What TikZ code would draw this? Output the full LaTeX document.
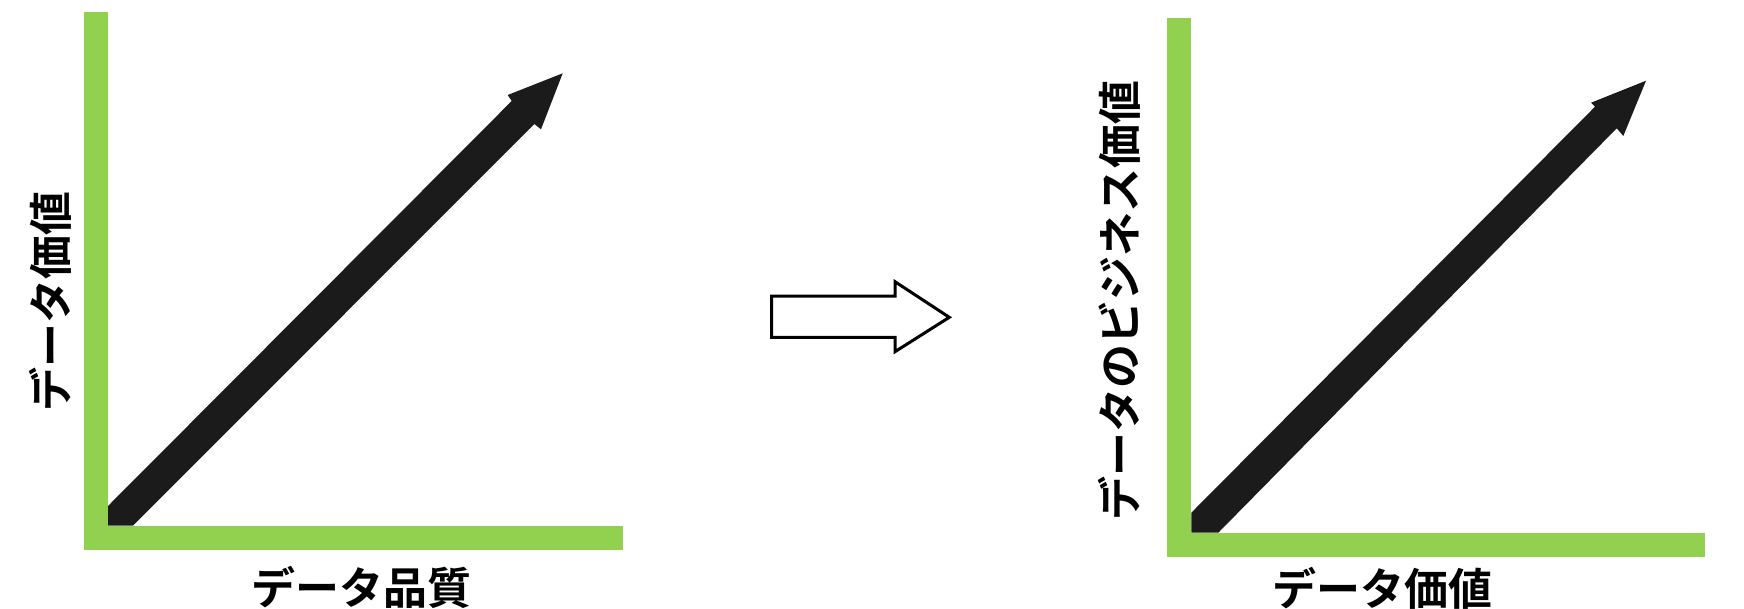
\documentclass[tikz,border=0pt]{standalone}
\usepackage{fontspec}
\newfontfamily\jp{Noto Sans CJK JP}[UprightFont=* Bold]
\definecolor{axisgreen}{HTML}{92D050}
\definecolor{arrowblack}{HTML}{1B1B1B}
\begin{document}
\begin{tikzpicture}[x=1pt,y=-1pt,
  axisbar/.style={fill=axisgreen,draw=none},
  bigarrow/.style={fill=arrowblack,draw=none},
  axlabel/.style={font=\jp\fontsize{44}{44}\selectfont,inner sep=0pt,text=black},
  hollow/.style={draw=black,line width=3pt,fill=white,line join=miter}]
\useasboundingbox[fill=white] (0,0) rectangle (1744,608);
% left panel
\fill[bigarrow] (108,506) -- (108,525.7) -- (133,525.7) -- (534.3,124) -- (541,129.3) -- (562.7,73.3) -- (507.7,95) -- (511.7,101) -- cycle;
\fill[axisbar] (84,12) rectangle (108,550);
\fill[axisbar] (84,525.7) rectangle (622.7,550);
\node[axlabel,rotate=90] (ly) at (50.5,301.5) {データ価値};
\node[axlabel] (lx) at (361,587) {データ品質};
% middle hollow arrow
\draw[hollow] (771.7,296) -- (895,296) -- (895,281.7) -- (949.3,317.3) -- (895,351.7) -- (895,337.3) -- (771.7,337.3) -- cycle;
% right panel
\fill[bigarrow] (1191.3,512.7) -- (1191.3,532.7) -- (1218.3,532.7) -- (1616.7,128.3) -- (1623.3,136) -- (1646,80.7) -- (1591,102.7) -- (1595,106.7) -- cycle;
\fill[axisbar] (1167.3,18.3) rectangle (1191.3,556.7);
\fill[axisbar] (1167.3,532.7) rectangle (1705,556.7);
\node[axlabel,rotate=90] (ry) at (1119.5,300) {データのビジネス価値};
\node[axlabel] (rx) at (1382,588) {データ価値};
\end{tikzpicture}
\end{document}
